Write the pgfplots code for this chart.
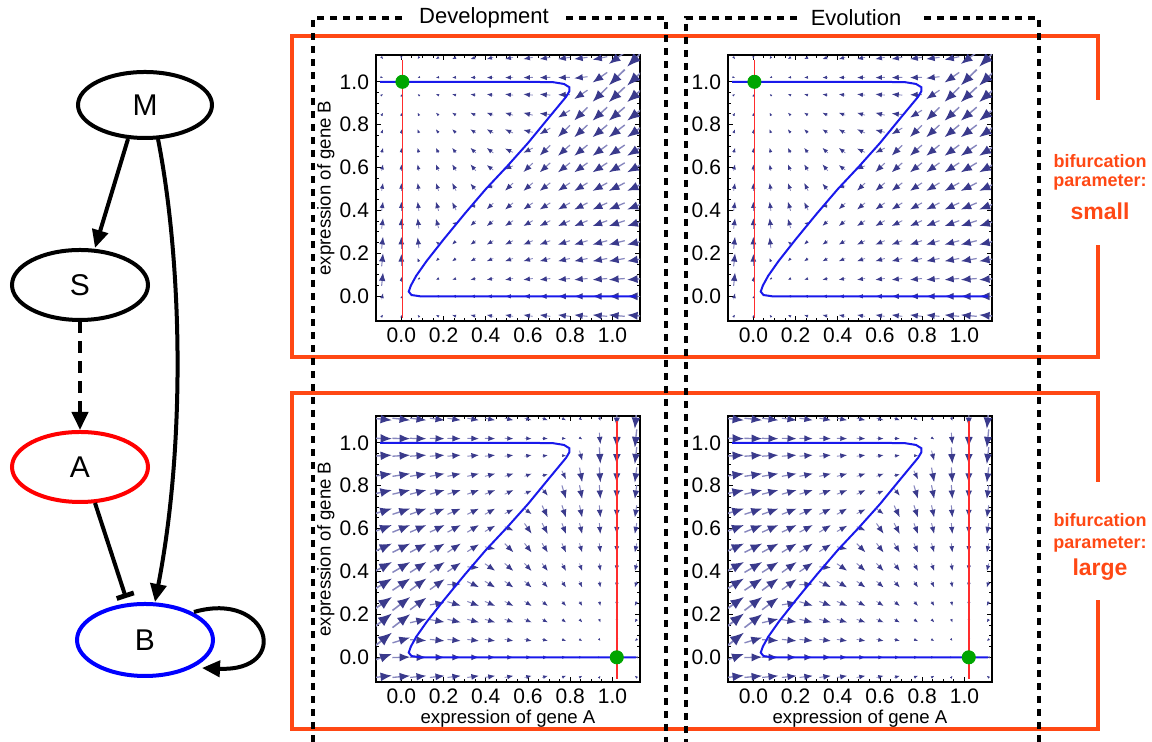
\documentclass[border=0pt]{standalone}
\usepackage{fontspec}
\setmainfont{Liberation Sans}
\usepackage{pgfplots}
\pgfplotsset{compat=1.18}
\usepackage{pgfplotstable}
\usetikzlibrary{arrows.meta}

\definecolor{arrdark}{RGB}{58,58,140}
\definecolor{arrlight}{RGB}{135,135,190}
\definecolor{nullblue}{RGB}{25,25,235}
\definecolor{nullred}{RGB}{255,45,45}
\definecolor{dotgreen}{RGB}{0,165,0}
\definecolor{bifred}{RGB}{255,72,20}

% vector field: x y, u for small parameter (ut), u for large parameter (ub), v
\pgfplotstableread{
x y ut ub v
-0.09 -0.09 0.09 1.09 0.12
0.00 -0.09 0.00 1.00 0.09
0.08 -0.09 -0.08 0.92 0.09
0.17 -0.09 -0.17 0.83 0.09
0.25 -0.09 -0.25 0.75 0.09
0.34 -0.09 -0.34 0.66 0.09
0.42 -0.09 -0.42 0.58 0.09
0.51 -0.09 -0.51 0.49 0.09
0.60 -0.09 -0.60 0.40 0.09
0.68 -0.09 -0.68 0.32 0.09
0.77 -0.09 -0.77 0.23 0.09
0.85 -0.09 -0.85 0.15 0.09
0.94 -0.09 -0.94 0.06 0.09
1.02 -0.09 -1.02 -0.02 0.09
1.11 -0.09 -1.11 -0.11 0.09
-0.09 0.00 0.09 1.09 0.38
0.00 0.00 0.00 1.00 0.03
0.08 0.00 -0.08 0.92 0.00
0.17 0.00 -0.17 0.83 0.00
0.25 0.00 -0.25 0.75 0.00
0.34 0.00 -0.34 0.66 0.00
0.42 0.00 -0.42 0.58 0.00
0.51 0.00 -0.51 0.49 0.00
0.60 0.00 -0.60 0.40 0.00
0.68 0.00 -0.68 0.32 0.00
0.77 0.00 -0.77 0.23 0.00
0.85 0.00 -0.85 0.15 0.00
0.94 0.00 -0.94 0.06 0.00
1.02 0.00 -1.02 -0.02 0.00
1.11 0.00 -1.11 -0.11 0.00
-0.09 0.08 0.09 1.09 0.84
0.00 0.08 0.00 1.00 0.30
0.08 0.08 -0.08 0.92 -0.05
0.17 0.08 -0.17 0.83 -0.08
0.25 0.08 -0.25 0.75 -0.08
0.34 0.08 -0.34 0.66 -0.08
0.42 0.08 -0.42 0.58 -0.08
0.51 0.08 -0.51 0.49 -0.08
0.60 0.08 -0.60 0.40 -0.08
0.68 0.08 -0.68 0.32 -0.08
0.77 0.08 -0.77 0.23 -0.08
0.85 0.08 -0.85 0.15 -0.08
0.94 0.08 -0.94 0.06 -0.08
1.02 0.08 -1.02 -0.02 -0.08
1.11 0.08 -1.11 -0.11 -0.08
-0.09 0.17 0.09 1.09 0.83
0.00 0.17 0.00 1.00 0.75
0.08 0.17 -0.08 0.92 0.21
0.17 0.17 -0.17 0.83 -0.14
0.25 0.17 -0.25 0.75 -0.17
0.34 0.17 -0.34 0.66 -0.17
0.42 0.17 -0.42 0.58 -0.17
0.51 0.17 -0.51 0.49 -0.17
0.60 0.17 -0.60 0.40 -0.17
0.68 0.17 -0.68 0.32 -0.17
0.77 0.17 -0.77 0.23 -0.17
0.85 0.17 -0.85 0.15 -0.17
0.94 0.17 -0.94 0.06 -0.17
1.02 0.17 -1.02 -0.02 -0.17
1.11 0.17 -1.11 -0.11 -0.17
-0.09 0.25 0.09 1.09 0.75
0.00 0.25 0.00 1.00 0.75
0.08 0.25 -0.08 0.92 0.67
0.17 0.25 -0.17 0.83 0.13
0.25 0.25 -0.25 0.75 -0.22
0.34 0.25 -0.34 0.66 -0.25
0.42 0.25 -0.42 0.58 -0.25
0.51 0.25 -0.51 0.49 -0.25
0.60 0.25 -0.60 0.40 -0.25
0.68 0.25 -0.68 0.32 -0.25
0.77 0.25 -0.77 0.23 -0.25
0.85 0.25 -0.85 0.15 -0.25
0.94 0.25 -0.94 0.06 -0.25
1.02 0.25 -1.02 -0.02 -0.25
1.11 0.25 -1.11 -0.11 -0.25
-0.09 0.34 0.09 1.09 0.66
0.00 0.34 0.00 1.00 0.66
0.08 0.34 -0.08 0.92 0.66
0.17 0.34 -0.17 0.83 0.58
0.25 0.34 -0.25 0.75 0.04
0.34 0.34 -0.34 0.66 -0.31
0.42 0.34 -0.42 0.58 -0.34
0.51 0.34 -0.51 0.49 -0.34
0.60 0.34 -0.60 0.40 -0.34
0.68 0.34 -0.68 0.32 -0.34
0.77 0.34 -0.77 0.23 -0.34
0.85 0.34 -0.85 0.15 -0.34
0.94 0.34 -0.94 0.06 -0.34
1.02 0.34 -1.02 -0.02 -0.34
1.11 0.34 -1.11 -0.11 -0.34
-0.09 0.42 0.09 1.09 0.58
0.00 0.42 0.00 1.00 0.58
0.08 0.42 -0.08 0.92 0.58
0.17 0.42 -0.17 0.83 0.58
0.25 0.42 -0.25 0.75 0.50
0.34 0.42 -0.34 0.66 -0.04
0.42 0.42 -0.42 0.58 -0.39
0.51 0.42 -0.51 0.49 -0.42
0.60 0.42 -0.60 0.40 -0.42
0.68 0.42 -0.68 0.32 -0.42
0.77 0.42 -0.77 0.23 -0.42
0.85 0.42 -0.85 0.15 -0.42
0.94 0.42 -0.94 0.06 -0.42
1.02 0.42 -1.02 -0.02 -0.42
1.11 0.42 -1.11 -0.11 -0.42
-0.09 0.51 0.09 1.09 0.49
0.00 0.51 0.00 1.00 0.49
0.08 0.51 -0.08 0.92 0.49
0.17 0.51 -0.17 0.83 0.49
0.25 0.51 -0.25 0.75 0.49
0.34 0.51 -0.34 0.66 0.41
0.42 0.51 -0.42 0.58 -0.13
0.51 0.51 -0.51 0.49 -0.48
0.60 0.51 -0.60 0.40 -0.51
0.68 0.51 -0.68 0.32 -0.51
0.77 0.51 -0.77 0.23 -0.51
0.85 0.51 -0.85 0.15 -0.51
0.94 0.51 -0.94 0.06 -0.51
1.02 0.51 -1.02 -0.02 -0.51
1.11 0.51 -1.11 -0.11 -0.51
-0.09 0.60 0.09 1.09 0.40
0.00 0.60 0.00 1.00 0.40
0.08 0.60 -0.08 0.92 0.40
0.17 0.60 -0.17 0.83 0.40
0.25 0.60 -0.25 0.75 0.40
0.34 0.60 -0.34 0.66 0.40
0.42 0.60 -0.42 0.58 0.32
0.51 0.60 -0.51 0.49 -0.22
0.60 0.60 -0.60 0.40 -0.57
0.68 0.60 -0.68 0.32 -0.60
0.77 0.60 -0.77 0.23 -0.60
0.85 0.60 -0.85 0.15 -0.60
0.94 0.60 -0.94 0.06 -0.60
1.02 0.60 -1.02 -0.02 -0.60
1.11 0.60 -1.11 -0.11 -0.60
-0.09 0.68 0.09 1.09 0.32
0.00 0.68 0.00 1.00 0.32
0.08 0.68 -0.08 0.92 0.32
0.17 0.68 -0.17 0.83 0.32
0.25 0.68 -0.25 0.75 0.32
0.34 0.68 -0.34 0.66 0.32
0.42 0.68 -0.42 0.58 0.32
0.51 0.68 -0.51 0.49 0.24
0.60 0.68 -0.60 0.40 -0.30
0.68 0.68 -0.68 0.32 -0.65
0.77 0.68 -0.77 0.23 -0.68
0.85 0.68 -0.85 0.15 -0.68
0.94 0.68 -0.94 0.06 -0.68
1.02 0.68 -1.02 -0.02 -0.68
1.11 0.68 -1.11 -0.11 -0.68
-0.09 0.77 0.09 1.09 0.23
0.00 0.77 0.00 1.00 0.23
0.08 0.77 -0.08 0.92 0.23
0.17 0.77 -0.17 0.83 0.23
0.25 0.77 -0.25 0.75 0.23
0.34 0.77 -0.34 0.66 0.23
0.42 0.77 -0.42 0.58 0.23
0.51 0.77 -0.51 0.49 0.23
0.60 0.77 -0.60 0.40 0.15
0.68 0.77 -0.68 0.32 -0.39
0.77 0.77 -0.77 0.23 -0.74
0.85 0.77 -0.85 0.15 -0.77
0.94 0.77 -0.94 0.06 -0.77
1.02 0.77 -1.02 -0.02 -0.77
1.11 0.77 -1.11 -0.11 -0.77
-0.09 0.85 0.09 1.09 0.15
0.00 0.85 0.00 1.00 0.15
0.08 0.85 -0.08 0.92 0.15
0.17 0.85 -0.17 0.83 0.15
0.25 0.85 -0.25 0.75 0.15
0.34 0.85 -0.34 0.66 0.15
0.42 0.85 -0.42 0.58 0.15
0.51 0.85 -0.51 0.49 0.15
0.60 0.85 -0.60 0.40 0.15
0.68 0.85 -0.68 0.32 0.07
0.77 0.85 -0.77 0.23 -0.47
0.85 0.85 -0.85 0.15 -0.82
0.94 0.85 -0.94 0.06 -0.85
1.02 0.85 -1.02 -0.02 -0.85
1.11 0.85 -1.11 -0.11 -0.85
-0.09 0.94 0.09 1.09 0.06
0.00 0.94 0.00 1.00 0.06
0.08 0.94 -0.08 0.92 0.06
0.17 0.94 -0.17 0.83 0.06
0.25 0.94 -0.25 0.75 0.06
0.34 0.94 -0.34 0.66 0.06
0.42 0.94 -0.42 0.58 0.06
0.51 0.94 -0.51 0.49 0.06
0.60 0.94 -0.60 0.40 0.06
0.68 0.94 -0.68 0.32 0.06
0.77 0.94 -0.77 0.23 -0.02
0.85 0.94 -0.85 0.15 -0.56
0.94 0.94 -0.94 0.06 -0.91
1.02 0.94 -1.02 -0.02 -0.94
1.11 0.94 -1.11 -0.11 -0.94
-0.09 1.02 0.09 1.09 -0.02
0.00 1.02 0.00 1.00 -0.02
0.08 1.02 -0.08 0.92 -0.02
0.17 1.02 -0.17 0.83 -0.02
0.25 1.02 -0.25 0.75 -0.02
0.34 1.02 -0.34 0.66 -0.02
0.42 1.02 -0.42 0.58 -0.02
0.51 1.02 -0.51 0.49 -0.02
0.60 1.02 -0.60 0.40 -0.02
0.68 1.02 -0.68 0.32 -0.02
0.77 1.02 -0.77 0.23 -0.02
0.85 1.02 -0.85 0.15 -0.10
0.94 1.02 -0.94 0.06 -0.64
1.02 1.02 -1.02 -0.02 -0.99
1.11 1.02 -1.11 -0.11 -1.02
-0.09 1.11 0.09 1.09 -0.11
0.00 1.11 0.00 1.00 -0.11
0.08 1.11 -0.08 0.92 -0.11
0.17 1.11 -0.17 0.83 -0.11
0.25 1.11 -0.25 0.75 -0.11
0.34 1.11 -0.34 0.66 -0.11
0.42 1.11 -0.42 0.58 -0.11
0.51 1.11 -0.51 0.49 -0.11
0.60 1.11 -0.60 0.40 -0.11
0.68 1.11 -0.68 0.32 -0.11
0.77 1.11 -0.77 0.23 -0.11
0.85 1.11 -0.85 0.15 -0.11
0.94 1.11 -0.94 0.06 -0.19
1.02 1.11 -1.02 -0.02 -0.73
1.11 1.11 -1.11 -0.11 -1.08
}\field

% Z-shaped nullcline of gene B
\pgfplotstableread{
x y
-0.10 1.000
0.60 1.000
0.72 0.998
0.77 0.990
0.795 0.975
0.795 0.955
0.78 0.930
0.70 0.835
0.60 0.715
0.50 0.605
0.40 0.500
0.30 0.385
0.20 0.265
0.12 0.165
0.07 0.095
0.045 0.050
0.035 0.022
0.048 0.006
0.09 0.000
0.20 0.000
1.11 0.000
}\zcurve

% red nullclines of gene A (small / large parameter)
\pgfplotstableread{
x y
0.005 -0.10
0.005 1.10
}\redsmall
\pgfplotstableread{
x y
1.02 -0.10
1.02 1.10
}\redlarge

\pgfplotsset{
  phase/.style={
    scale only axis, width=132pt, height=133pt,
    xmin=-0.12, xmax=1.13, ymin=-0.115, ymax=1.125,
    xtick={0,0.2,0.4,0.6,0.8,1.0}, ytick={0,0.2,0.4,0.6,0.8,1.0},
    minor tick num=3,
    tick align=inside, major tick length=2.5pt, minor tick length=1.3pt,
    every tick/.style={black, line width=0.5pt},
    axis line style={black, line width=0.9pt},
    /pgf/number format/assume math mode=true,
    /pgf/number format/fixed,
    /pgf/number format/fixed zerofill,
    /pgf/number format/precision=1,
    tick label style={font=\fontsize{10.5}{12}\selectfont},
    label style={font=\fontsize{9.3}{11}\selectfont},
    ylabel style={at={(axis description cs:-0.19,0.5)}, anchor=center},
    xlabel style={at={(axis description cs:0.5,-0.137)}, anchor=center},
    clip=true,
  },
}

\newcommand\vfield[2]{%
  \addplot[arrlight,
    point meta={sqrt((\thisrow{#1})^2+(\thisrow{v})^2)},
    quiver={u=\thisrow{#1}, v=\thisrow{v}, scale arrows=#2,
      every arrow/.append style={line width=0.12pt+0.75pt*\pgfplotspointmetatransformed/1000}},
    -{Latex[length=0pt 8,width=0pt 6.2,color=arrdark]}]
    table[x expr={\thisrow{x}-0.5*#2*\thisrow{#1}}, y expr={\thisrow{y}-0.5*#2*\thisrow{v}}] {\field};
}

\begin{document}
\begin{tikzpicture}[x=1pt,y=1pt]
\useasboundingbox (0,0) rectangle (576,371);

% ---------- phase plots ----------
\begin{axis}[phase, at={(188pt,210.5pt)}, anchor=south west, ylabel={expression of gene B}]
  \vfield{ut}{0.074}
  \addplot[nullblue, line width=1pt] table {\zcurve};
  \addplot[draw=nullred, line width=0.9pt] table {\redsmall};
  \addplot[only marks, mark=*, mark size=3.3pt, dotgreen] coordinates {(0.005,1)};
\end{axis}
\begin{axis}[phase, at={(364pt,210.5pt)}, anchor=south west]
  \vfield{ut}{0.074}
  \addplot[nullblue, line width=1pt] table {\zcurve};
  \addplot[draw=nullred, line width=0.9pt] table {\redsmall};
  \addplot[only marks, mark=*, mark size=3.3pt, dotgreen] coordinates {(0.005,1)};
\end{axis}
\begin{axis}[phase, at={(188pt,30pt)}, anchor=south west, ylabel={expression of gene B}, xlabel={expression of gene A}]
  \vfield{ub}{0.084}
  \addplot[nullblue, line width=1pt] table {\zcurve};
  \addplot[draw=nullred, line width=0.9pt] table {\redlarge};
  \addplot[only marks, mark=*, mark size=3.3pt, dotgreen] coordinates {(1.02,0)};
\end{axis}
\begin{axis}[phase, at={(364pt,30pt)}, anchor=south west, xlabel={expression of gene A}]
  \vfield{ub}{0.084}
  \addplot[nullblue, line width=1pt] table {\zcurve};
  \addplot[draw=nullred, line width=0.9pt] table {\redlarge};
  \addplot[only marks, mark=*, mark size=3.3pt, dotgreen] coordinates {(1.02,0)};
\end{axis}

% ---------- bifurcation rows (orange-red) ----------
\begin{scope}[bifred, line width=1.6pt]
  \draw (549,321) -- (549,353) -- (146,353) -- (146,192.5) -- (549,192.5) -- (549,248.5);
  \draw (549,130) -- (549,174.5) -- (146,174.5) -- (146,6.5) -- (549,6.5) -- (549,71);
  \node[font=\bfseries\fontsize{9}{10}\selectfont] at (550,290.5) {bifurcation};
  \node[font=\bfseries\fontsize{9}{10}\selectfont] at (550,279.5) {parameter:};
  \node[font=\bfseries\fontsize{11.5}{13}\selectfont] at (550,265.5) {small};
  \node[font=\bfseries\fontsize{9}{10}\selectfont] at (550,111) {bifurcation};
  \node[font=\bfseries\fontsize{9}{10}\selectfont] at (550,98.5) {parameter:};
  \node[font=\bfseries\fontsize{11.5}{13}\selectfont] at (550,86) {large};
\end{scope}

% ---------- Development / Evolution columns (dashed) ----------
\begin{scope}[black, line width=1.6pt, dash pattern=on 3.5pt off 3pt]
  \draw (201,362) -- (156.5,362) -- (156.5,-3);
  \draw (283,362) -- (333,362) -- (333,-3);
  \draw (398.5,362) -- (343,362) -- (343,-3);
  \draw (462,362) -- (519.5,362) -- (519.5,-3);
\end{scope}
\node[font=\fontsize{11}{13}\selectfont] at (242,362) {Development};
\node[font=\fontsize{11}{13}\selectfont] at (428,362) {Evolution};

% ---------- regulatory network ----------
\begin{scope}[line width=2pt]
  \draw[black] (72.5,318.5) ellipse [x radius=33.5, y radius=16.5];
  \draw[black] (40,228.5) ellipse [x radius=34, y radius=17.5];
  \draw[red] (40,137.5) ellipse [x radius=34, y radius=17.5];
  \draw[blue] (72.5,51) ellipse [x radius=34, y radius=18];
  \draw[-{Triangle[length=9pt,width=8pt]}] (64,301.5) -- (47.5,247);
  \draw[-{Triangle[length=9pt,width=8pt]}] (79,301.5) .. controls (91,240) and (93,150) .. (77.5,70);
  \draw[dash pattern=on 6pt off 4pt, -{Triangle[length=9pt,width=8pt]}] (40,210.5) -- (40,156);
  \draw[-{Bar[width=9pt,line width=2.4pt]}] (47.5,119.5) -- (63,72);
  \draw[-{Triangle[length=9pt,width=8pt]}] (97,65) .. controls (135,76) and (146,35) .. (101,37);
\end{scope}
\node[font=\fontsize{15}{18}\selectfont] at (72.5,318.5) {M};
\node[font=\fontsize{15}{18}\selectfont] at (40,228.5) {S};
\node[font=\fontsize{15}{18}\selectfont] at (40,137.5) {A};
\node[font=\fontsize{15}{18}\selectfont] at (72.5,51) {B};
\end{tikzpicture}
\end{document}
